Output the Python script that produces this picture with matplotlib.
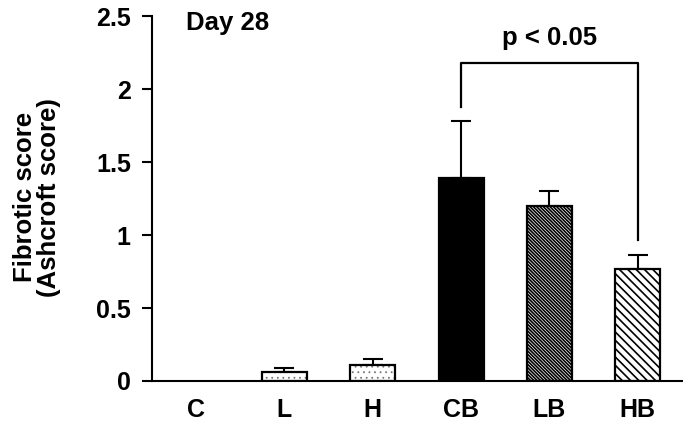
import matplotlib.pyplot as plt

plt.rcParams['font.family'] = ['Liberation Sans', 'DejaVu Sans']
plt.rcParams['font.weight'] = 'bold'
plt.rcParams['hatch.linewidth'] = 1.2

groups = ['C', 'L', 'H', 'CB', 'LB', 'HB']
scores = [0.0, 0.064, 0.11, 1.39, 1.20, 0.767]
errors = [0.0, 0.026, 0.04, 0.39, 0.10, 0.093]
fills = ['white', 'white', 'white', 'black', 'white', 'white']
hatches = ['', '...', '...', '', '\\\\\\\\\\\\\\\\\\\\', '\\\\\\\\']
hatch_colors = ['black', '#777777', '#777777', 'black', 'black', 'black']

fig = plt.figure(figsize=(6.83, 4.23), dpi=100)
ax = fig.add_axes([0.2225, 0.0993, 0.776, 0.8627])

x = list(range(len(groups)))
for i in x:
    # hatch layer, then outline on top
    with plt.rc_context({'hatch.linewidth': 0.6 if '.' in hatches[i] else 1.2}):
        ax.bar(i, scores[i], width=0.51, color=fills[i],
               edgecolor=hatch_colors[i], linewidth=0, hatch=hatches[i],
               zorder=2)
    if scores[i] > 0:
        ax.bar(i, scores[i], width=0.51, fill=False, edgecolor='black',
               linewidth=1.6, zorder=3)
    if errors[i] > 0:
        ax.errorbar(i, scores[i], yerr=[[0], [errors[i]]], fmt='none',
                    ecolor='black', elinewidth=1.5, capsize=7.5, capthick=1.5,
                    zorder=1)

# significance bracket CB vs HB
ax.plot([3, 3, 5, 5], [1.88, 2.18, 2.18, 0.966], color='black', lw=1.6,
        clip_on=False)
ax.text(4, 2.35, 'p < 0.05', ha='center', va='center', fontsize=18.5,
        fontweight='bold')
ax.text(-0.11, 2.45, 'Day 28', ha='left', va='center', fontsize=18.5,
        fontweight='bold')

ax.set_xlim(-0.5, 5.5)
ax.set_ylim(0, 2.5)
ax.set_yticks([0, 0.5, 1, 1.5, 2, 2.5])
ax.set_yticklabels(['0', '0.5', '1', '1.5', '2', '2.5'])
ax.set_xticks(x)
ax.set_xticklabels(groups)
ax.tick_params(axis='y', direction='out', length=7.2, width=1.5,
               labelsize=18, pad=8)
ax.tick_params(axis='x', length=0, labelsize=18, pad=12)
for lab in ax.get_xticklabels() + ax.get_yticklabels():
    lab.set_fontweight('bold')

ax.spines['top'].set_visible(False)
ax.spines['right'].set_visible(False)
ax.spines['left'].set_linewidth(1.5)
ax.spines['bottom'].set_linewidth(1.5)

fig.text(0.054, 0.534, 'Fibrotic score\n(Ashcroft score)', rotation=90,
         ha='center', va='center', fontsize=18.5, fontweight='bold',
         linespacing=1.0, multialignment='center')

fig.savefig('out.png', dpi=100)
